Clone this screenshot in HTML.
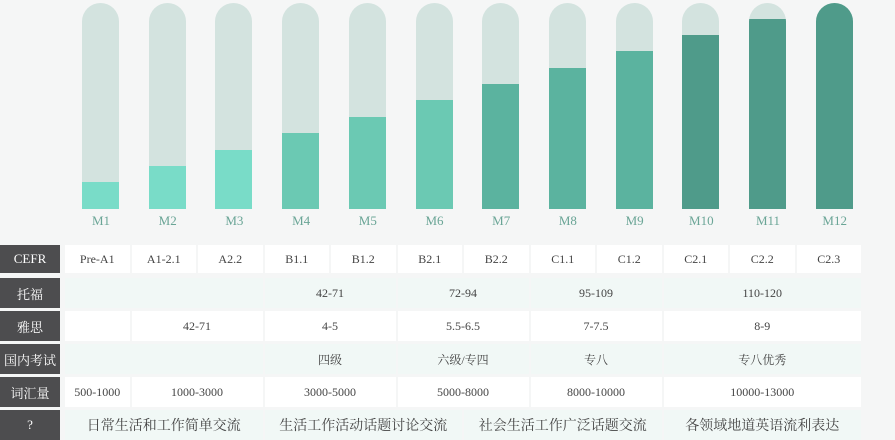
<!DOCTYPE html><html><head><meta charset="utf-8"><style>
body{margin:0;width:895px;height:440px;background:#f5f6f6;position:relative;overflow:hidden;font-family:"Liberation Serif","Noto Serif CJK SC",serif;}
.t{position:absolute;width:37px;top:3px;height:206px;background:#d3e3df;border-radius:19px 19px 0 0;overflow:hidden}
.f{position:absolute;left:0;right:0;bottom:0}
.l{position:absolute;top:213px;width:60px;text-align:center;font-size:13px;color:#6aa596}
.h{position:absolute;left:0;width:60px;background:#4d4d4f;color:#fff;font-size:13px;display:flex;align-items:center;justify-content:center}
.c{position:absolute;font-size:12px;color:#444;display:flex;align-items:center;justify-content:center}
</style></head><body>
<div id="bars"></div>
<script>
var tops=[182,166,150,133,117,100,84,68,51,35,19,3];
var cols=["#79dcc8","#79dcc8","#79dcc8","#6bc9b3","#6bc9b3","#6bc9b3","#5bb39f","#5bb39f","#5bb39f","#4f9b8a","#4f9b8a","#4f9b8a"];
var s="";
for(var i=0;i<12;i++){var x=82+i*66.7;
s+='<div class="t" style="left:'+x+'px"><div class="f" style="top:'+(tops[i]-3)+'px;background:'+cols[i]+'"></div></div>';
s+='<div class="l" style="left:'+(x-11)+'px">M'+(i+1)+'</div>';}
var rows=[[245,28],[278,30],[311,30],[344,30],[377,30],[410,30]];
var heads=["CEFR","托福","雅思","国内考试","词汇量","?"];
var data=[
[[1,1,"Pre-A1"],[2,2,"A1-2.1"],[3,3,"A2.2"],[4,4,"B1.1"],[5,5,"B1.2"],[6,6,"B2.1"],[7,7,"B2.2"],[8,8,"C1.1"],[9,9,"C1.2"],[10,10,"C2.1"],[11,11,"C2.2"],[12,12,"C2.3"]],
[[1,3,""],[4,5,"42-71"],[6,7,"72-94"],[8,9,"95-109"],[10,12,"110-120"]],
[[1,1,""],[2,3,"42-71"],[4,5,"4-5"],[6,7,"5.5-6.5"],[8,9,"7-7.5"],[10,12,"8-9"]],
[[1,3,""],[4,5,"四级"],[6,7,"六级/专四"],[8,9,"专八"],[10,12,"专八优秀"]],
[[1,1,"500-1000"],[2,3,"1000-3000"],[4,5,"3000-5000"],[6,7,"5000-8000"],[8,9,"8000-10000"],[10,12,"10000-13000"]],
[[1,3,"日常生活和工作简单交流"],[4,6,"生活工作活动话题讨论交流"],[7,9,"社会生活工作广泛话题交流"],[10,12,"各领域地道英语流利表达"]]];
var bgs=["#ffffff","#f1f8f6","#ffffff","#f1f8f6","#ffffff","#f1f8f6"];
for(var r=0;r<6;r++){var y=rows[r][0],h=rows[r][1];
s+='<div class="h" style="top:'+y+'px;height:'+h+'px">'+heads[r]+'</div>';
data[r].forEach(function(d){var x0=64+(d[0]-1)*66.5,x1=64+d[1]*66.5;
s+='<div class="c" style="left:'+(x0+1)+'px;width:'+(x1-x0-2)+'px;top:'+y+'px;height:'+h+'px;background:'+bgs[r]+';font-size:'+(r==5?14:12)+'px">'+d[2]+'</div>';});}
document.getElementById("bars").innerHTML=s;
</script>
</body></html>
